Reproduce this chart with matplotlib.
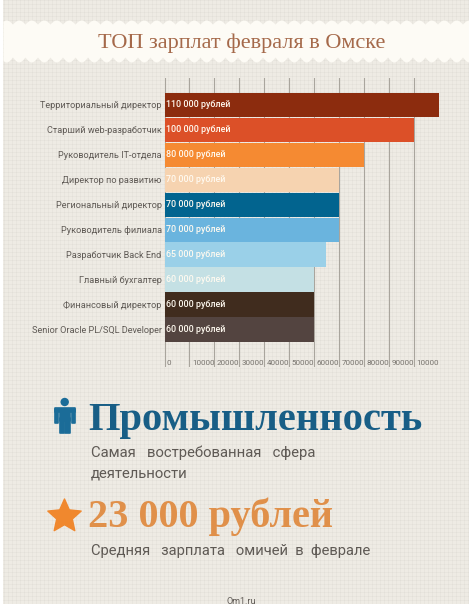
import matplotlib
matplotlib.use('Agg')
import matplotlib.pyplot as plt
import matplotlib.font_manager as fm
import numpy as np

W, H = 469, 604

jobs = ['Территориальный директор', 'Старший web-разработчик', 'Руководитель IT-отдела',
        'Директор по развитию', 'Региональный директор', 'Руководитель филиала',
        'Разработчик Back End', 'Главный бухгалтер', 'Финансовый директор',
        'Senior Oracle PL/SQL Developer']
salaries = [110000, 100000, 80000, 70000, 70000, 70000, 65000, 60000, 60000, 60000]
bar_labels = ['110 000 рублей', '100 000 рублей', '80 000 рублей', '70 000 рублей', '70 000 рублей',
              '70 000 рублей', '65 000 рублей', '60 000 рублей', '60 000 рублей', '60 000 рублей']
colors = ['#8c2c0e', '#dc5028', '#f58a32', '#f6d3b0', '#02648f', '#6ab4de',
          '#9ad0e8', '#c4e0e4', '#402c1e', '#534440']
ticks = [0, 10000, 20000, 30000, 40000, 50000, 60000, 70000, 80000, 90000, 100000]

names = {f.name for f in fm.fontManager.ttflist}
narrow = 'Liberation Sans Narrow' if 'Liberation Sans Narrow' in names else 'Roboto'
SERIF = 'Liberation Serif'
GREY = '#5f5a55'
BLUE = '#1b6c98'
ORANGE = '#f0882e'

fig = plt.figure(figsize=(W / 100, H / 100), dpi=100, facecolor='white')

# background, woven paper texture
bg = fig.add_axes([0, 0, 1, 1])
bg.set_xlim(0, W)
bg.set_ylim(H, 0)
bg.axis('off')
tex = np.full((H, W, 3), [238, 235, 228], dtype=float)
tex[::4, :] -= 6
tex[:, ::4] -= 6
tex[:, :3] = 255
bg.imshow(tex / 255, extent=(0, W, H, 0), aspect='auto', interpolation='bilinear')

# banner with scalloped edges
xs = np.arange(3, W + 1, 0.5)
bump = np.abs(np.sin(xs * np.pi / 12.5))
bg.fill_between(xs, 24 - 4 * bump, 57 + 5 * bump, color='#fdfbf5', lw=0)
bg.text(241.5, 43, 'ТОП зарплат февраля в Омске', family=SERIF, fontsize=16, color='#a5694a',
        ha='center', va='center')

# chart
ax = fig.add_axes([164.5 / W, 1 - 367 / H, 274 / W, 289 / H])
ax.patch.set_alpha(0)
y = np.arange(len(jobs))
ax.barh(y, salaries, height=0.98, color=colors, zorder=3)
ax.set_xlim(0, 110000)
ax.set_ylim(10.5, -1.08)
for s in ax.spines.values():
    s.set_visible(False)
ax.set_xticks(ticks)
ax.set_xticklabels([])
ax.grid(axis='x', color='#a9a59d', lw=0.8, zorder=1)
ax.tick_params(axis='x', length=0)
ax.tick_params(axis='y', length=0, pad=2)
ax.set_yticks(y)
ax.set_yticklabels(jobs, family=narrow, fontsize=6.6, color=GREY)

for i, lab in enumerate(bar_labels):
    ax.text(800, i, lab, family=narrow, fontsize=6.4, weight='medium', color='#fffaf0', va='center',
            ha='left', zorder=4)
for t in ticks:
    ax.text(t + 1000, 10.34, str(t), family=narrow, fontsize=5.8, color='#77736d', va='center',
            ha='left', zorder=4, clip_on=True)

# lower text blocks
bg.text(88, 430, 'Промышленность', family=SERIF, weight='bold', fontsize=29.2, color='#185e86',
        ha='left', va='baseline')
bg.text(91, 457, 'Самая   востребованная   сфера', family=narrow, fontsize=10.7, color=GREY,
        ha='left', va='baseline')
bg.text(91, 477, 'деятельности', family=narrow, fontsize=10.7, color=GREY, ha='left', va='baseline')
bg.text(88, 527, '23 000 рублей', family=SERIF, weight='bold', fontsize=29, color='#e0904a',
        ha='left', va='baseline')
bg.text(91, 555, 'Средняя   зарплата   омичей  в  феврале', family=narrow, fontsize=10.6, color=GREY,
        ha='left', va='baseline')
bg.text(241, 601.5, 'Om1.ru', family=narrow, fontsize=6.5, color=GREY, ha='center', va='center')

# person icon
bg.add_patch(plt.Circle((64.7, 402), 4.2, color=BLUE, lw=0))
for x0, y0, w, h in [(55, 408, 19.5, 4), (55, 409, 2.6, 14), (71.9, 409, 2.6, 14), (59.5, 409, 10.5, 12),
                     (59.5, 418, 4.6, 14.5), (65.4, 418, 4.6, 14.5)]:
    bg.add_patch(plt.Rectangle((x0, y0), w, h, facecolor=BLUE, edgecolor=BLUE, lw=1.2, joinstyle='round'))

# star icon, fatter than the stock marker
ang = np.pi / 2 + np.arange(10) * np.pi / 5
rad = np.where(np.arange(10) % 2 == 0, 17.5, 8.2)
star = np.column_stack([64.5 + rad * np.cos(ang), 516.5 - rad * np.sin(ang)])
bg.add_patch(plt.Polygon(star, closed=True, facecolor=ORANGE, edgecolor=ORANGE, lw=1.0, joinstyle='round'))

fig.savefig('out.png', dpi=100)
